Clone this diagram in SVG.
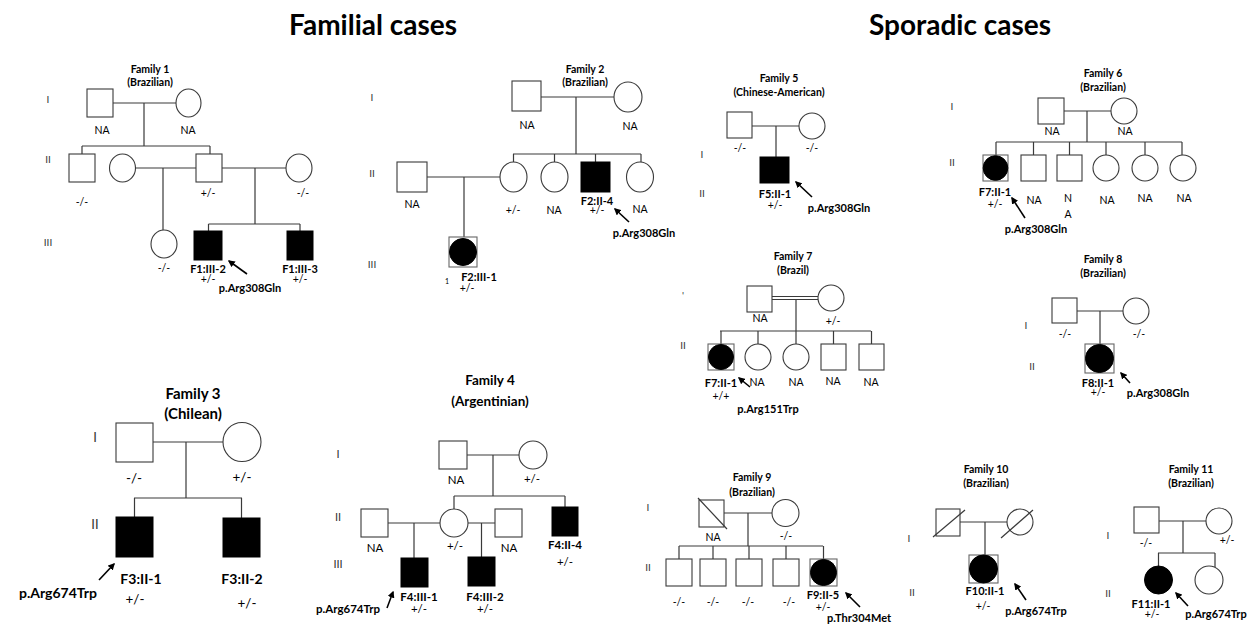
<svg xmlns="http://www.w3.org/2000/svg" width="1250" height="626" viewBox="0 0 1250 626">
<defs>
<style>
.ln{stroke:#3a3a3a;stroke-width:1.2;fill:none}
.dl{stroke:#3a3a3a;stroke-width:1.1;fill:none}
.op{fill:#fff;stroke:#3a3a3a;stroke-width:1.1}
.bx{fill:#fff;stroke:#666;stroke-width:1.1}
.fl{fill:#000;stroke:#000;stroke-width:1}
.ar{stroke:#000;stroke-width:1.6;fill:none;marker-end:url(#ah)}
text{font-family:Lato,"Liberation Sans",sans-serif;fill:#000;text-anchor:middle;dominant-baseline:central}
.hd{font-size:28px;font-weight:bold}
.ti{font-size:10.5px;font-weight:bold}
.gn{font-size:10px;fill:#333}
.gt{font-size:10.5px}
.lb{font-size:11px;font-weight:bold}
.ti3{font-size:15px;font-weight:bold}
.gn3{font-size:13px;fill:#333}
.gt3{font-size:13.5px}
.lb3{font-size:14px;font-weight:bold}
.ti4{font-size:13.5px;font-weight:bold}
.gn4{font-size:11px;fill:#333}
.gt4{font-size:11.5px}
.lb4{font-size:11.5px;font-weight:bold}
</style>
<marker id="ah" viewBox="0 0 10 10" refX="8" refY="5" markerWidth="7" markerHeight="7" markerUnits="userSpaceOnUse" orient="auto"><path d="M0,0 L10,5 L0,10 z" fill="#000"/></marker>
</defs>
<rect width="1250" height="626" fill="#fff"/>
<text class="hd" x="373" y="24">Familial cases</text>
<text class="hd" x="960" y="24">Sporadic cases</text>

<!-- Family 1 -->
<g id="family1">
<g id="f1-connectors">
<path class="ln" d="M113 103H176M144 103V146M82 146H210M82 146V154M210 146V154M135.5 168H196M163 168V230M222 168H286M255 168V224M208.5 224H300M208.5 224V231M300 224V231"/>
<path class="ar" d="M247 274L229 261"/>
</g>
<text class="ti" x="150" y="69">Family 1</text>
<text class="ti" x="150" y="82">(Brazilian)</text>
<text class="gn" x="48" y="99">I</text><text class="gn" x="48" y="159">II</text><text class="gn" x="48" y="242">III</text>
<g id="f1-I-1"><rect class="op" x="87" y="89" width="26" height="28"/><text class="gt" x="102" y="130">NA</text></g>
<g id="f1-I-2"><ellipse class="op" cx="188.5" cy="103" rx="12.5" ry="14"/><text class="gt" x="188" y="130">NA</text></g>
<g id="f1-II-1"><rect class="op" x="69" y="154" width="26" height="28"/><text class="gt" x="82" y="202">-/-</text></g>
<g id="f1-II-2"><ellipse class="op" cx="122.5" cy="168" rx="13" ry="14"/></g>
<g id="f1-II-3"><rect class="op" x="196" y="154" width="26" height="28"/><text class="gt" x="208" y="193">+/-</text></g>
<g id="f1-II-4"><ellipse class="op" cx="299" cy="168" rx="13" ry="14"/><text class="gt" x="303" y="193">-/-</text></g>
<g id="f1-III-1"><ellipse class="op" cx="164" cy="244" rx="13" ry="14"/><text class="gt" x="164" y="268">-/-</text></g>
<g id="f1-III-2"><rect class="fl" x="194" y="231" width="28" height="29"/><text class="lb" x="208" y="268">F1:III-2</text><text class="gt" x="208" y="279">+/-</text><text class="lb" x="250" y="287">p.Arg308Gln</text></g>
<g id="f1-III-3"><rect class="fl" x="287" y="231" width="26" height="29"/><text class="lb" x="300" y="268">F1:III-3</text><text class="gt" x="300" y="279">+/-</text></g>
</g>

<!-- Family 2 -->
<g id="family2">
<g id="f2-connectors">
<path class="ln" d="M541 97H614M576 97V154M513 154H641M513.5 154V162M554.5 154V162M595.5 154V162M641 154V162M427 177H500M464 177V237"/>
<path class="ar" d="M629 222L615 209"/>
</g>
<text class="ti" x="585" y="69">Family 2</text>
<text class="ti" x="585" y="82">(Brazilian)</text>
<text class="gn" x="372" y="97">I</text><text class="gn" x="372" y="173">II</text><text class="gn" x="372" y="264">III</text>
<g id="f2-I-1"><rect class="op" x="512" y="81" width="29" height="30"/><text class="gt" x="527" y="125">NA</text></g>
<g id="f2-I-2"><ellipse class="op" cx="628" cy="97" rx="14" ry="15"/><text class="gt" x="630" y="126">NA</text></g>
<g id="f2-II-1"><rect class="op" x="397" y="162" width="30" height="30"/><text class="gt" x="412" y="204">NA</text></g>
<g id="f2-II-2"><ellipse class="op" cx="513.5" cy="177" rx="13.5" ry="15"/><text class="gt" x="513" y="210">+/-</text></g>
<g id="f2-II-3"><ellipse class="op" cx="554.5" cy="177" rx="13.5" ry="15"/><text class="gt" x="554" y="210">NA</text></g>
<g id="f2-II-4"><rect class="fl" x="581" y="162" width="29" height="30"/><text class="lb" x="597" y="200">F2:II-4</text><text class="gt" x="597" y="210">+/-</text><text class="lb" x="644" y="232">p.Arg308Gln</text></g>
<g id="f2-II-5"><ellipse class="op" cx="640" cy="177" rx="13.5" ry="15"/><text class="gt" x="640" y="209">NA</text></g>
<g id="f2-III-1"><rect class="bx" x="449" y="237" width="28" height="30"/><circle class="fl" cx="463" cy="252" r="13.5"/><text class="gt" x="447" y="281" style="font-size:7px">1</text><text class="lb" x="479" y="276">F2:III-1</text><text class="gt" x="467" y="288">+/-</text></g>
</g>

<!-- Family 5 -->
<g id="family5">
<g id="f5-connectors">
<path class="ln" d="M752 126H799M776 126V157"/>
<path class="ar" d="M812 197L796 182"/>
</g>
<text class="ti" x="779" y="78">Family 5</text>
<text class="ti" x="779" y="92">(Chinese-American)</text>
<text class="gn" x="702" y="154">I</text><text class="gn" x="702" y="193">II</text>
<g id="f5-I-1"><rect class="op" x="727" y="112" width="25" height="26"/><text class="gt" x="740" y="148">-/-</text></g>
<g id="f5-I-2"><circle class="op" cx="812" cy="126" r="13"/><text class="gt" x="812" y="148">-/-</text></g>
<g id="f5-II-1"><rect class="fl" x="760" y="157" width="29" height="26"/><text class="lb" x="775" y="193">F5:II-1</text><text class="gt" x="775" y="205">+/-</text><text class="lb" x="839" y="207">p.Arg308Gln</text></g>
</g>

<!-- Family 6 -->
<g id="family6">
<g id="f6-connectors">
<path class="ln" d="M1064 111H1111M1087 111V142M996 142H1182M996 142V155M1033.5 142V155M1069.5 142V155M1106 142V155M1145 142V155M1182 142V155"/>
<path class="ar" d="M1025 218L1012 198"/>
</g>
<text class="ti" x="1103" y="73">Family 6</text>
<text class="ti" x="1103" y="87">(Brazilian)</text>
<text class="gn" x="952" y="106">I</text><text class="gn" x="952" y="162">II</text>
<g id="f6-I-1"><rect class="op" x="1038" y="98" width="26" height="26"/><text class="gt" x="1052" y="131">NA</text></g>
<g id="f6-I-2"><circle class="op" cx="1124" cy="111" r="13"/><text class="gt" x="1125" y="131">NA</text></g>
<g id="f6-II-1"><rect class="bx" x="983" y="155" width="25" height="26"/><circle class="fl" cx="995.5" cy="168" r="12.3"/><text class="lb" x="995" y="191">F7:II-1</text><text class="gt" x="995" y="204">+/-</text><text class="lb" x="1036" y="228">p.Arg308Gln</text></g>
<g id="f6-II-2"><rect class="op" x="1021" y="155" width="25" height="26"/><text class="gt" x="1034" y="200">NA</text></g>
<g id="f6-II-3"><rect class="op" x="1057" y="155" width="25" height="26"/><text class="gt" x="1068" y="198">N</text><text class="gt" x="1068" y="214">A</text></g>
<g id="f6-II-4"><circle class="op" cx="1106" cy="168" r="13"/><text class="gt" x="1107" y="200">NA</text></g>
<g id="f6-II-5"><circle class="op" cx="1145" cy="168" r="13"/><text class="gt" x="1145" y="198">NA</text></g>
<g id="f6-II-6"><circle class="op" cx="1183" cy="168" r="13"/><text class="gt" x="1184" y="198">NA</text></g>
</g>

<!-- Family 7 -->
<g id="family7">
<g id="f7-connectors">
<path class="dl" d="M772 296.5H818M772 299.5H818"/>
<path class="ln" d="M796 299.5V331M720 331H871M721 331V344M758 331V344M796 331V344M833.5 331V344M871.5 331V344"/>
<path class="ar" d="M750 387L739 378"/>
</g>
<text class="ti" x="793" y="256">Family 7</text>
<text class="ti" x="793" y="270">(Brazil)</text>
<text class="gn" x="683" y="295">'</text><text class="gn" x="683" y="345">II</text>
<g id="f7-I-1"><rect class="op" x="747" y="286" width="25" height="26"/><text class="gt" x="760" y="318">NA</text></g>
<g id="f7-I-2"><circle class="op" cx="831" cy="298" r="13"/><text class="gt" x="833" y="321">+/-</text></g>
<g id="f7-II-1"><rect class="bx" x="708" y="344" width="26" height="26"/><circle class="fl" cx="721" cy="357" r="12.5"/><text class="lb" x="721" y="382">F7:II-1</text><text class="gt" x="721" y="396">+/+</text><text class="lb" x="768" y="408">p.Arg151Trp</text></g>
<g id="f7-II-2"><circle class="op" cx="758" cy="357" r="13"/><text class="gt" x="757" y="382">NA</text></g>
<g id="f7-II-3"><circle class="op" cx="796" cy="357" r="13"/><text class="gt" x="796" y="382">NA</text></g>
<g id="f7-II-4"><rect class="op" x="821" y="344" width="25" height="26"/><text class="gt" x="833" y="381">NA</text></g>
<g id="f7-II-5"><rect class="op" x="859" y="344" width="25" height="26"/><text class="gt" x="871" y="382">NA</text></g>
</g>

<!-- Family 8 -->
<g id="family8">
<g id="f8-connectors">
<path class="ln" d="M1077 311H1123M1100 311V344"/>
<path class="ar" d="M1130 383L1121 373"/>
</g>
<text class="ti" x="1103" y="259">Family 8</text>
<text class="ti" x="1103" y="273">(Brazilian)</text>
<text class="gn" x="1026" y="325">I</text><text class="gn" x="1032" y="366">II</text>
<g id="f8-I-1"><rect class="op" x="1052" y="298" width="25" height="25"/><text class="gt" x="1065" y="334">-/-</text></g>
<g id="f8-I-2"><circle class="op" cx="1136" cy="311" r="13"/><text class="gt" x="1139" y="334">-/-</text></g>
<g id="f8-II-1"><rect class="bx" x="1085" y="344" width="29" height="29"/><circle class="fl" cx="1099.5" cy="358.5" r="14"/><text class="lb" x="1098" y="382">F8:II-1</text><text class="gt" x="1098" y="392">+/-</text><text class="lb" x="1158" y="392">p.Arg308Gln</text></g>
</g>

<!-- Family 3 -->
<g id="family3">
<g id="f3-connectors">
<path class="ln" d="M153 442H223M186 442V498M134 498H242M134.5 498V517M241.5 498V518"/>
<path class="ar" d="M99 580L114 564"/>
</g>
<text class="ti3" x="193" y="393">Family 3</text>
<text class="ti3" x="193" y="413">(Chilean)</text>
<text class="gn3" x="95" y="437">I</text><text class="gn3" x="95" y="524">II</text>
<g id="f3-I-1"><rect class="op" x="116" y="423" width="37" height="39"/><text class="gt3" x="134" y="478">-/-</text></g>
<g id="f3-I-2"><ellipse class="op" cx="242" cy="442" rx="19" ry="19.5"/><text class="gt3" x="242" y="477">+/-</text></g>
<g id="f3-II-1"><rect class="fl" x="116" y="517" width="37" height="40"/><text class="lb3" x="141" y="578">F3:II-1</text><text class="gt3" x="135" y="599">+/-</text><text class="lb3" x="58" y="592">p.Arg674Trp</text></g>
<g id="f3-II-2"><rect class="fl" x="223" y="518" width="37" height="39"/><text class="lb3" x="242" y="578">F3:II-2</text><text class="gt3" x="247" y="603">+/-</text></g>
</g>

<!-- Family 4 -->
<g id="family4">
<g id="f4-connectors">
<path class="ln" d="M467 455H519M493 455V496M454 496H565M454 496V509M565 496V507M388 523H440M414 523V558M468 523H495M481.5 523V557"/>
<path class="ar" d="M387 608L393 592"/>
</g>
<text class="ti4" x="490" y="380">Family 4</text>
<text class="ti4" x="490" y="401">(Argentinian)</text>
<text class="gn4" x="338" y="453">I</text><text class="gn4" x="338" y="516">II</text><text class="gn4" x="338" y="563">III</text>
<g id="f4-I-1"><rect class="op" x="439" y="441" width="28" height="28"/><text class="gt4" x="456" y="479">NA</text></g>
<g id="f4-I-2"><circle class="op" cx="533" cy="455" r="14"/><text class="gt4" x="532" y="478">+/-</text></g>
<g id="f4-II-1"><rect class="op" x="361" y="509" width="27" height="28"/><text class="gt4" x="375" y="547">NA</text></g>
<g id="f4-II-2"><circle class="op" cx="454" cy="523" r="14"/><text class="gt4" x="455" y="545">+/-</text></g>
<g id="f4-II-3"><rect class="op" x="495" y="509" width="27" height="28"/><text class="gt4" x="509" y="547">NA</text></g>
<g id="f4-II-4"><rect class="fl" x="552" y="507" width="26" height="29"/><text class="lb4" x="565" y="544">F4:II-4</text><text class="gt4" x="565" y="561">+/-</text></g>
<g id="f4-III-1"><rect class="fl" x="401" y="558" width="27" height="29"/><text class="lb4" x="419" y="596">F4:III-1</text><text class="gt4" x="419" y="608">+/-</text><text class="lb4" x="348" y="608">p.Arg674Trp</text></g>
<g id="f4-III-2"><rect class="fl" x="468" y="557" width="27" height="29"/><text class="lb4" x="485" y="596">F4:III-2</text><text class="gt4" x="485" y="608">+/-</text></g>
</g>

<!-- Family 9 -->
<g id="family9">
<g id="f9-connectors">
<path class="ln" d="M724 513H772M748 513V546M679 546H823M679 546V559M713 546V559M749 546V559M786 546V559M823.5 546V559"/>
<path class="ar" d="M860 607L846 593"/>
</g>
<text class="ti" x="752" y="477">Family 9</text>
<text class="ti" x="752" y="492">(Brazilian)</text>
<text class="gn" x="648" y="507">I</text><text class="gn" x="648" y="567">II</text>
<g id="f9-I-1"><rect class="op" x="699" y="500" width="25" height="27"/><path class="ln" d="M698 498L727 529"/><text class="gt" x="713" y="537">NA</text></g>
<g id="f9-I-2"><circle class="op" cx="785.5" cy="513" r="13.5"/><text class="gt" x="786" y="536">-/-</text></g>
<g id="f9-II-1"><rect class="op" x="666" y="559" width="26" height="27"/><text class="gt" x="679" y="602">-/-</text></g>
<g id="f9-II-2"><rect class="op" x="700" y="559" width="26" height="27"/><text class="gt" x="713" y="602">-/-</text></g>
<g id="f9-II-3"><rect class="op" x="736" y="559" width="26" height="27"/><text class="gt" x="748" y="602">-/-</text></g>
<g id="f9-II-4"><rect class="op" x="773" y="559" width="26" height="27"/><text class="gt" x="789" y="602">-/-</text></g>
<g id="f9-II-5"><rect class="bx" x="810" y="559" width="27" height="27"/><circle class="fl" cx="823.5" cy="572.5" r="13"/><text class="lb" x="823" y="594">F9:II-5</text><text class="gt" x="823" y="607">+/-</text><text class="lb" x="859" y="617">p.Thr304Met</text></g>
</g>

<!-- Family 10 -->
<g id="family10">
<g id="f10-connectors">
<path class="ln" d="M960 522H1007M985 522V555"/>
<path class="ar" d="M1026 600L1015 584"/>
</g>
<text class="ti" x="986" y="469">Family 10</text>
<text class="ti" x="986" y="483">(Brazilian)</text>
<text class="gn" x="909" y="538">I</text><text class="gn" x="912" y="592">II</text>
<g id="f10-I-1"><rect class="op" x="936" y="509" width="24" height="27"/><path class="ln" d="M933 537L965 510"/></g>
<g id="f10-I-2"><circle class="op" cx="1020" cy="522" r="13"/><path class="ln" d="M1001 538L1033 510"/></g>
<g id="f10-II-1"><rect class="bx" x="969" y="555" width="29" height="28"/><circle class="fl" cx="983.5" cy="569" r="14"/><text class="lb" x="985" y="590">F10:II-1</text><text class="gt" x="983" y="606">+/-</text><text class="lb" x="1036" y="610">p.Arg674Trp</text></g>
</g>

<!-- Family 11 -->
<g id="family11">
<g id="f11-connectors">
<path class="ln" d="M1159 521H1206M1183 521V553M1158 553H1215M1158.5 553V566M1215 553V567.5"/>
<path class="ar" d="M1188 606L1176 593"/>
</g>
<text class="ti" x="1191" y="469">Family 11</text>
<text class="ti" x="1191" y="483">(Brazilian)</text>
<text class="gn" x="1108" y="535">I</text><text class="gn" x="1108" y="593">II</text>
<g id="f11-I-1"><rect class="op" x="1134" y="507" width="25" height="26"/><text class="gt" x="1146" y="543">-/-</text></g>
<g id="f11-I-2"><circle class="op" cx="1219" cy="521" r="13"/><text class="gt" x="1227" y="540">+/-</text></g>
<g id="f11-II-1"><circle class="fl" cx="1158.5" cy="580" r="14"/><text class="lb" x="1151" y="603">F11:II-1</text><text class="gt" x="1152" y="614">+/-</text><text class="lb" x="1216" y="613">p.Arg674Trp</text></g>
<g id="f11-II-2"><circle class="op" cx="1209" cy="580" r="14"/></g>
</g>
</svg>
